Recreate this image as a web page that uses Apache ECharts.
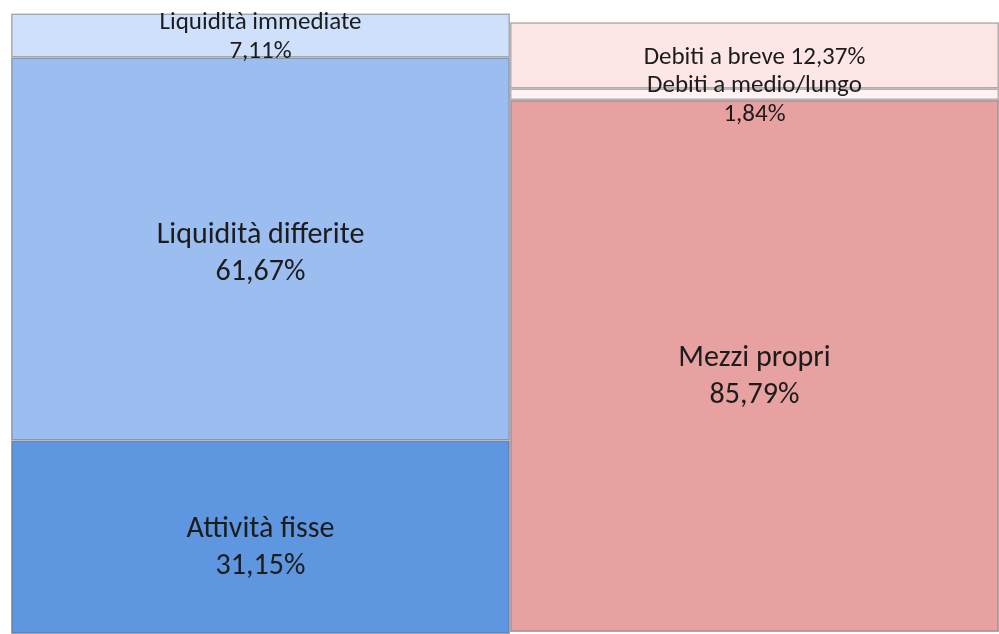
<!DOCTYPE html>
<html>
<head>
<meta charset="utf-8">
<script src="https://cdn.jsdelivr.net/npm/echarts@6/dist/echarts.min.js"></script>
<style>
  html, body { margin: 0; padding: 0; background: #fff; }
  #chart { width: 999px; height: 634px; }
</style>
</head>
<body>
<div id="chart"></div>
<script>
// attivo (colonna sinistra), dal basso verso l'alto
const attivoNomi = ['Attività fisse', 'Liquidità differite', 'Liquidità immediate'];
const attivoValori = [31.15, 61.67, 7.11];
// passivo (colonna destra), dal basso verso l'alto
const passivoNomi = ['Mezzi propri', 'Debiti a medio/lungo', 'Debiti a breve'];
const passivoValori = [85.79, 1.84, 12.37];

const attivoColori = ['#5e97df', '#9cbdf0', '#cfe1fa'];
const passivoColori = ['#e6a1a0', '#fff2f2', '#fde6e6'];

function fmt(v) {
  return v.toFixed(2).replace('.', ',') + '%';
}

const chart = echarts.init(document.getElementById('chart'));

function buildSeries(nomi, valori, colori, axisIndex, stack) {
  return nomi.map((nome, i) => {
    const big = valori[i] > 20;
    const sep = nome === 'Debiti a breve' ? ' ' : '\n';
    // spostamento verticale dell'etichetta
    let dy = big ? 5 : 2;
    if (big && i === 0) dy = 11;
    if (!big && valori[i] < 5) dy = 6;
    return {
      name: nome,
      type: 'bar',
      stack: stack,
      xAxisIndex: axisIndex,
      yAxisIndex: axisIndex,
      barWidth: '100%',
      data: [valori[i]],
      itemStyle: {
        color: colori[i],
        borderColor: 'rgba(70,70,70,0.4)',
        borderWidth: 1.5
      },
      label: {
        show: true,
        position: 'inside',
        offset: [0, dy],
        formatter: () => nome + sep + fmt(valori[i]),
        color: '#1c1c1c',
        fontFamily: 'Carlito, "Liberation Sans", sans-serif',
        fontSize: big ? 30 : 25,
        lineHeight: big ? 37 : 29
      }
    };
  });
}

chart.setOption({
  backgroundColor: '#fff',
  animation: false,
  grid: [
    {left: 11, right: 489, top: 13, bottom: -2},
    {left: 510, right: -4, top: 23, bottom: 2}
  ],
  xAxis: [
    {type: 'category', gridIndex: 0, data: ['Attivo'], show: false},
    {type: 'category', gridIndex: 1, data: ['Passivo'], show: false}
  ],
  yAxis: [
    {type: 'value', gridIndex: 0, min: 0, max: 100, show: false},
    {type: 'value', gridIndex: 1, min: 0, max: 98.2, show: false}
  ],
  series: [
    ...buildSeries(attivoNomi, attivoValori, attivoColori, 0, 'attivo'),
    ...buildSeries(passivoNomi, passivoValori, passivoColori, 1, 'passivo')
  ]
});
</script>
</body>
</html>
